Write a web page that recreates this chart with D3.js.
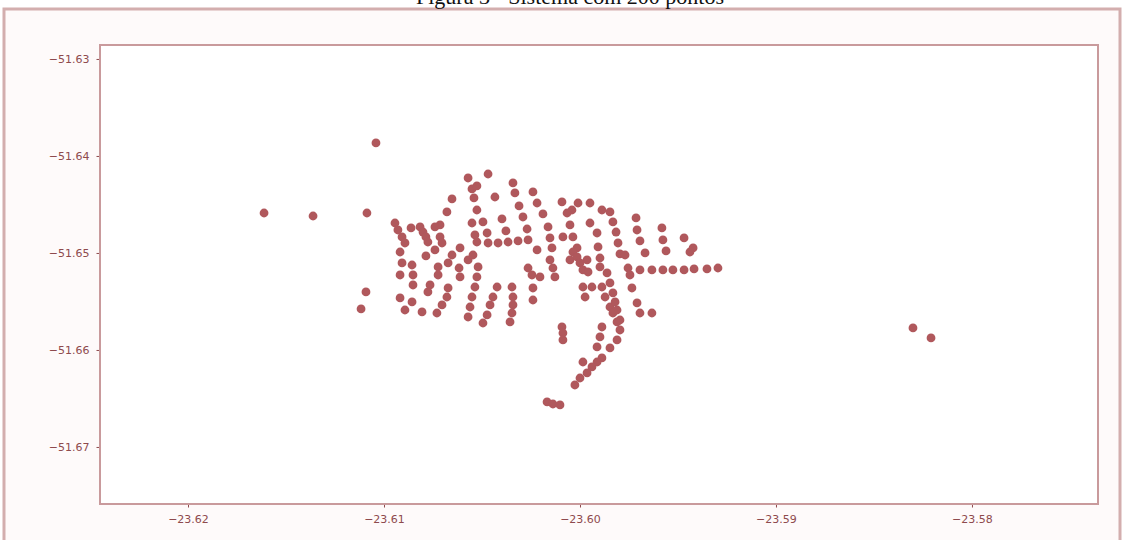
<!DOCTYPE html>
<html>
<head>
<meta charset="utf-8">
<script src="https://cdn.jsdelivr.net/npm/d3@7"></script>
<style>
  html, body { margin: 0; padding: 0; background: #ffffff; }
  svg { display: block; }
</style>
</head>
<body>
<svg id="chart" width="1124" height="540"></svg>
<script>
// Figure caption (only its lower part sits inside the page)
const caption = "Figura 3 - Sistema com 200 pontos";

// Axis ticks
const xTicks = [-23.62, -23.61, -23.60, -23.59, -23.58];
const yTicks = [-51.63, -51.64, -51.65, -51.66, -51.67];

// Visible ranges of both axes
const xDomain = [-23.62449, -23.57357];
const yDomain = [-51.67588, -51.62856];

// Points as [latitude, longitude]
const isolatedPoints = [
  [-23.61612, -51.64588], [-23.61362, -51.64619], [-23.61087, -51.64588],
  [-23.61041, -51.63866], [-23.61092, -51.65402], [-23.61117, -51.65577],
  [-23.58301, -51.65773], [-23.58209, -51.65876]
];

const northPoints = [
  [-23.60571, -51.64227], [-23.60469, -51.64186], [-23.60551, -51.64340],
  [-23.60526, -51.64309], [-23.60342, -51.64278], [-23.60653, -51.64443],
  [-23.60541, -51.64433], [-23.60434, -51.64423], [-23.60332, -51.64381],
  [-23.60240, -51.64371], [-23.60679, -51.64577], [-23.60526, -51.64557],
  [-23.60311, -51.64515], [-23.60219, -51.64485], [-23.60398, -51.64649],
  [-23.60291, -51.64629], [-23.60551, -51.64691], [-23.60495, -51.64680],
  [-23.60714, -51.64711], [-23.60740, -51.64732], [-23.60944, -51.64691],
  [-23.60929, -51.64763], [-23.60908, -51.64835], [-23.60893, -51.64897],
  [-23.60862, -51.64742], [-23.60816, -51.64732], [-23.60801, -51.64784],
  [-23.60786, -51.64835], [-23.60776, -51.64887], [-23.60714, -51.64835],
  [-23.60704, -51.64897], [-23.60378, -51.64773], [-23.60270, -51.64753],
  [-23.60536, -51.64814], [-23.60526, -51.64887], [-23.60474, -51.64794],
  [-23.60469, -51.64897], [-23.60418, -51.64897], [-23.60367, -51.64887],
  [-23.60316, -51.64876], [-23.60265, -51.64866], [-23.60612, -51.64948],
  [-23.60918, -51.64990], [-23.60740, -51.64969], [-23.60786, -51.65031]
];

const eastPoints = [
  [-23.60189, -51.64598], [-23.60163, -51.64732], [-23.60153, -51.64845],
  [-23.60219, -51.64969], [-23.60092, -51.64474], [-23.60010, -51.64485],
  [-23.59949, -51.64485], [-23.60041, -51.64557], [-23.60066, -51.64588],
  [-23.60051, -51.64711], [-23.60087, -51.64835], [-23.60036, -51.64835],
  [-23.59949, -51.64691], [-23.59913, -51.64794], [-23.59888, -51.64557],
  [-23.59847, -51.64577], [-23.59832, -51.64680], [-23.59816, -51.64784],
  [-23.59806, -51.64897], [-23.59796, -51.65010], [-23.59714, -51.64639],
  [-23.59709, -51.64763], [-23.59694, -51.64876], [-23.59668, -51.65000],
  [-23.59582, -51.64742], [-23.59577, -51.64866], [-23.59561, -51.64979],
  [-23.59469, -51.64845], [-23.59423, -51.64948], [-23.59439, -51.64990],
  [-23.60015, -51.64948], [-23.60143, -51.64948], [-23.59908, -51.64938],
  [-23.59898, -51.65052], [-23.59964, -51.65072], [-23.60051, -51.65072],
  [-23.60153, -51.65072]
];

const eastRow = [
  [-23.59755, -51.65155], [-23.59694, -51.65175], [-23.59633, -51.65175],
  [-23.59577, -51.65175], [-23.59526, -51.65175], [-23.59469, -51.65175],
  [-23.59418, -51.65165], [-23.59352, -51.65165], [-23.59296, -51.65155]
];

const southPoints = [
  [-23.60908, -51.65103], [-23.60857, -51.65124], [-23.60918, -51.65227],
  [-23.60852, -51.65227], [-23.60852, -51.65330], [-23.60918, -51.65464],
  [-23.60857, -51.65505], [-23.60893, -51.65588], [-23.60806, -51.65608],
  [-23.60765, -51.65330], [-23.60776, -51.65402], [-23.60724, -51.65144],
  [-23.60724, -51.65227], [-23.60673, -51.65103], [-23.60653, -51.65021],
  [-23.60617, -51.65155], [-23.60612, -51.65247], [-23.60673, -51.65361],
  [-23.60679, -51.65454], [-23.60704, -51.65536], [-23.60730, -51.65619],
  [-23.60571, -51.65072], [-23.60546, -51.65021], [-23.60520, -51.65144],
  [-23.60526, -51.65247], [-23.60536, -51.65351], [-23.60551, -51.65454],
  [-23.60561, -51.65557], [-23.60571, -51.65660], [-23.60423, -51.65351],
  [-23.60444, -51.65454], [-23.60459, -51.65536], [-23.60474, -51.65639],
  [-23.60495, -51.65722], [-23.60347, -51.65351], [-23.60342, -51.65454],
  [-23.60342, -51.65536], [-23.60347, -51.65619], [-23.60357, -51.65711],
  [-23.60265, -51.65155], [-23.60245, -51.65227], [-23.60240, -51.65361],
  [-23.60240, -51.65485], [-23.60204, -51.65247], [-23.60138, -51.65155],
  [-23.60128, -51.65247], [-23.60092, -51.65763], [-23.60087, -51.65825],
  [-23.60087, -51.65897], [-23.60036, -51.64990], [-23.60015, -51.65041],
  [-23.60000, -51.65103], [-23.59985, -51.65175], [-23.59959, -51.65196],
  [-23.59985, -51.65351], [-23.59974, -51.65454], [-23.59939, -51.65351],
  [-23.59898, -51.65144], [-23.59888, -51.65351], [-23.59872, -51.65454],
  [-23.59847, -51.65557], [-23.59832, -51.65619], [-23.59811, -51.65711],
  [-23.59796, -51.65794], [-23.59862, -51.65206], [-23.59847, -51.65309],
  [-23.59832, -51.65412], [-23.59821, -51.65505], [-23.59811, -51.65588],
  [-23.59796, -51.65691], [-23.59888, -51.65763], [-23.59898, -51.65866],
  [-23.59913, -51.65969], [-23.59811, -51.65897], [-23.59847, -51.65979],
  [-23.59888, -51.66082], [-23.59913, -51.66124], [-23.59939, -51.66175],
  [-23.59964, -51.66237], [-23.59985, -51.66124], [-23.60000, -51.66289],
  [-23.60026, -51.66361], [-23.60168, -51.66536], [-23.60138, -51.66557],
  [-23.60102, -51.66567], [-23.59770, -51.65021], [-23.59745, -51.65227],
  [-23.59735, -51.65361], [-23.59709, -51.65515], [-23.59694, -51.65619],
  [-23.59633, -51.65619]
];

const allPoints = [].concat(isolatedPoints, northPoints, eastPoints, eastRow, southPoints);

const svg = d3.select("#chart");
const W = 1124, H = 540;
const plot = { left: 100, top: 45, right: 1098, bottom: 504 };

const labelColor = "#8e4a4d";
const spineColor = "#c99a9c";
const pointColor = "#b0585c";

// page background and outer frame
svg.append("rect").attr("x", 0).attr("y", 0).attr("width", W).attr("height", H).attr("fill", "#ffffff");
svg.append("rect")
  .attr("x", 4).attr("y", 9).attr("width", 1116).attr("height", 540)
  .attr("fill", "#fefafa")
  .attr("stroke", "#d3aeae").attr("stroke-width", 3);

// caption, mostly above the page edge
svg.append("text")
  .attr("x", 570).attr("y", 4)
  .attr("text-anchor", "middle")
  .attr("font-family", "Liberation Serif, Times New Roman, serif")
  .attr("font-size", 22)
  .attr("fill", "#111")
  .text(caption);

// plot area
svg.append("rect")
  .attr("x", plot.left).attr("y", plot.top)
  .attr("width", plot.right - plot.left).attr("height", plot.bottom - plot.top)
  .attr("fill", "#ffffff");

const x = d3.scaleLinear().domain(xDomain).range([plot.left, plot.right]);
const y = d3.scaleLinear().domain(yDomain).range([plot.bottom, plot.top]);

const fmt = d3.format(".2f");

const xAxis = svg.append("g")
  .attr("transform", `translate(0,${plot.bottom})`)
  .call(d3.axisBottom(x).tickValues(xTicks).tickFormat(fmt).tickSizeOuter(0).tickSize(3.5).tickPadding(8));
const yAxis = svg.append("g")
  .attr("transform", `translate(${plot.left},0)`)
  .call(d3.axisLeft(y).tickValues(yTicks).tickFormat(fmt).tickSizeOuter(0).tickSize(3.5).tickPadding(7));

[xAxis, yAxis].forEach(g => {
  g.select(".domain").remove();
  g.selectAll(".tick line").attr("stroke", labelColor).attr("stroke-width", 1);
  g.selectAll(".tick text")
    .attr("fill", labelColor)
    .attr("font-family", "DejaVu Sans, sans-serif")
    .attr("font-size", 11);
});

const defs = svg.append("defs");
defs.append("filter").attr("id", "soft")
  .append("feGaussianBlur").attr("stdDeviation", 0.5);

// points
svg.append("g")
  .attr("filter", "url(#soft)")
  .selectAll("circle")
  .data(allPoints)
  .join("circle")
  .attr("cx", d => x(d[0]))
  .attr("cy", d => y(d[1]))
  .attr("r", 4.4)
  .attr("fill", pointColor);

// axes frame
svg.append("rect")
  .attr("x", plot.left).attr("y", plot.top)
  .attr("width", plot.right - plot.left).attr("height", plot.bottom - plot.top)
  .attr("fill", "none")
  .attr("stroke", spineColor).attr("stroke-width", 2);
</script>
</body>
</html>
